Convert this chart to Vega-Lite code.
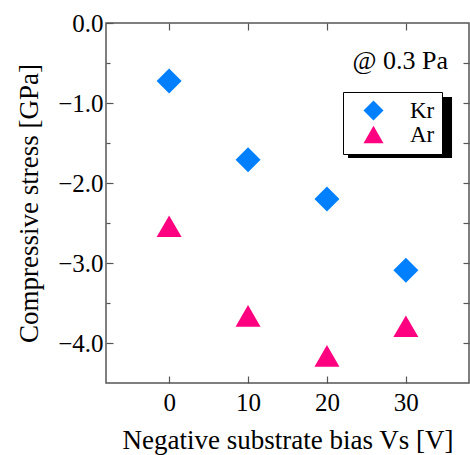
{
  "$schema": "https://vega.github.io/schema/vega-lite/v6.json",
  "width": 363,
  "height": 360,
  "autosize": {"type": "none"},
  "padding": {"left": 106, "top": 23, "right": 1, "bottom": 72},
  "config": {
    "view": {"stroke": "#555555", "strokeWidth": 1.5},
    "font": "Liberation Serif",
    "axis": {
      "grid": false,
      "domain": false,
      "tickColor": "#555555",
      "tickWidth": 1.2,
      "labelColor": "black",
      "titleColor": "black",
      "labelFont": "Liberation Serif",
      "titleFont": "Liberation Serif",
      "titleFontWeight": "normal"
    }
  },
  "datasets": {
    "pts": [
      {"bias": 0, "stress": -0.725, "gas": "Kr"},
      {"bias": 10, "stress": -1.71, "gas": "Kr"},
      {"bias": 20, "stress": -2.2, "gas": "Kr"},
      {"bias": 30, "stress": -3.09, "gas": "Kr"},
      {"bias": 0, "stress": -2.54, "gas": "Ar"},
      {"bias": 10, "stress": -3.66, "gas": "Ar"},
      {"bias": 20, "stress": -4.16, "gas": "Ar"},
      {"bias": 30, "stress": -3.79, "gas": "Ar"}
    ],
    "note": [{"label": "@ 0.3 Pa"}]
  },
  "data": {"name": "pts"},
  "layer": [
    {
      "data": {"name": "note"},
      "mark": {"type": "rect", "color": "black"},
      "encoding": {
        "x": {"datum": 22.67, "type": "quantitative", "scale": {"domain": [-8, 38], "nice": false, "zero": false}, "axis": null},
        "x2": {"datum": 35.85},
        "y": {"datum": -0.925, "type": "quantitative", "scale": {"domain": [-4.5, 0], "nice": false, "zero": false}, "axis": null},
        "y2": {"datum": -1.6875}
      }
    },
    {
      "mark": {"type": "point", "opacity": 0},
      "encoding": {
        "x": {"field": "bias", "type": "quantitative", "scale": {"domain": [-8, 38], "nice": false, "zero": false},
              "axis": {"orient": "top", "values": [0, 10, 20, 30], "labels": false, "tickSize": -7, "title": null}},
        "y": {"field": "stress", "type": "quantitative", "scale": {"domain": [-4.5, 0], "nice": false, "zero": false},
              "axis": {"orient": "right", "values": [-4, -3.5, -3, -2.5, -2, -1.5, -1, -0.5], "labels": false, "tickSize": -6, "title": null}}
      }
    },
    {
      "mark": {"type": "point", "opacity": 0},
      "encoding": {
        "x": {"field": "bias", "type": "quantitative", "scale": {"domain": [-8, 38], "nice": false, "zero": false}, "axis": null},
        "y": {"field": "stress", "type": "quantitative", "scale": {"domain": [-4.5, 0], "nice": false, "zero": false},
              "axis": {"orient": "left", "values": [-0.5, -1.5, -2.5, -3.5], "labels": false, "tickSize": -4, "title": null}}
      }
    },
    {
      "mark": {"type": "point", "filled": true, "opacity": 1, "size": 625, "strokeWidth": 0},
      "encoding": {
        "x": {"field": "bias", "type": "quantitative", "scale": {"domain": [-8, 38], "nice": false, "zero": false},
              "axis": {"orient": "bottom", "values": [0, 10, 20, 30], "tickSize": -7, "labelFontSize": 25, "labelPadding": 14,
                       "title": "Negative substrate bias  Vs [V]", "titleFontSize": 27, "titlePadding": 12}},
        "y": {"field": "stress", "type": "quantitative", "scale": {"domain": [-4.5, 0], "nice": false, "zero": false},
              "axis": {"orient": "left", "values": [0, -1, -2, -3, -4], "format": ".1f", "tickSize": -7, "labelFontSize": 25, "labelPadding": 10,
                       "title": "Compressive stress [GPa]", "titleFontSize": 27, "titlePadding": 14}},
        "color": {"field": "gas", "type": "nominal", "scale": {"domain": ["Kr", "Ar"], "range": ["#0080ff", "#ff0080"]},
                  "legend": {"title": null, "orient": "none", "legendX": 237, "legendY": 69, "fillColor": "white", "strokeColor": "black",
                             "padding": 7, "labelFontSize": 23, "labelFont": "Liberation Serif", "labelColor": "black", "symbolSize": 400,
                             "symbolOffset": 12, "labelOffset": 25, "rowPadding": 0}},
        "shape": {"field": "gas", "type": "nominal", "scale": {"domain": ["Kr", "Ar"], "range": ["diamond", "triangle-up"]},
                  "legend": {"title": null, "orient": "none", "legendX": 237, "legendY": 69, "fillColor": "white", "strokeColor": "black",
                             "padding": 7, "labelFontSize": 23, "labelFont": "Liberation Serif", "labelColor": "black", "symbolSize": 400,
                             "symbolOffset": 12, "labelOffset": 25, "rowPadding": 0}}
      }
    },
    {
      "data": {"name": "note"},
      "mark": {"type": "text", "align": "right", "baseline": "alphabetic", "fontSize": 26, "fontWeight": "normal", "font": "Liberation Serif", "color": "black"},
      "encoding": {
        "text": {"field": "label", "type": "nominal"},
        "x": {"datum": 35.34, "type": "quantitative", "scale": {"domain": [-8, 38], "nice": false, "zero": false}, "axis": null},
        "y": {"datum": -0.579, "type": "quantitative", "scale": {"domain": [-4.5, 0], "nice": false, "zero": false}, "axis": null}
      }
    }
  ],
  "resolve": {"axis": {"x": "independent", "y": "independent"}}
}
